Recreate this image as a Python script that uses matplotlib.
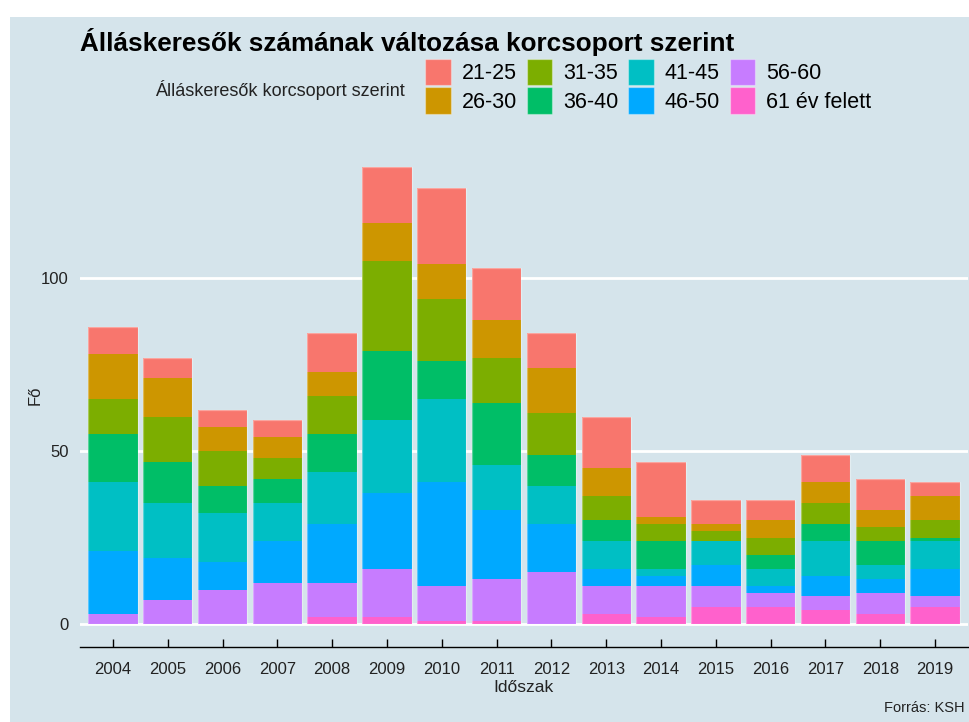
import numpy as np
import matplotlib
matplotlib.use("Agg")
import matplotlib.pyplot as plt
from matplotlib.patches import Patch, Rectangle

plt.rcParams['font.family'] = ['Liberation Sans', 'DejaVu Sans']

# Álláskeresők száma korcsoportonként (fő), 2004-2019
years = list(range(2004, 2020))
groups = ['21-25', '26-30', '31-35', '36-40', '41-45', '46-50', '56-60', '61 év felett']
colors = ['#F8766D', '#CD9600', '#7CAE00', '#00BE67', '#00BFC4', '#00A9FF', '#C77CFF', '#FF61CC']

age_21_25 = [8, 6, 5, 5, 11, 16, 22, 15, 10, 15, 16, 7, 6, 8, 9, 4]
age_26_30 = [13, 11, 7, 6, 7, 11, 10, 11, 13, 8, 2, 2, 5, 6, 5, 7]
age_31_35 = [10, 13, 10, 6, 11, 26, 18, 13, 12, 7, 5, 3, 5, 6, 4, 5]
age_36_40 = [14, 12, 8, 7, 11, 20, 11, 18, 9, 6, 8, 0, 4, 5, 7, 1]
age_41_45 = [20, 16, 14, 11, 15, 21, 24, 13, 11, 8, 2, 7, 5, 10, 4, 8]
age_46_50 = [18, 12, 8, 12, 17, 22, 30, 20, 14, 5, 3, 6, 2, 6, 4, 8]
age_56_60 = [3, 7, 10, 12, 10, 14, 10, 12, 15, 8, 9, 6, 4, 4, 6, 3]
age_61_up = [0, 0, 0, 0, 2, 2, 1, 1, 0, 3, 2, 5, 5, 4, 3, 5]

series = [age_21_25, age_26_30, age_31_35, age_36_40,
          age_41_45, age_46_50, age_56_60, age_61_up]

BG = '#d5e4eb'
OUTLINE = (1, 1, 1, 0.35)
W, H = 970, 722

fig = plt.figure(figsize=(W / 100, H / 100), dpi=100, facecolor='white')
fig.patches.append(Rectangle((10 / W, 0), 1 - 10 / W, 1 - 17 / H,
                             transform=fig.transFigure, facecolor=BG,
                             edgecolor='none', zorder=-10))

ax = fig.add_axes([80 / W, 1 - 647 / H, 888 / W, (647 - 144.5) / H])
ax.set_facecolor('none')

x = np.arange(len(years))
bottom = np.zeros(len(years))
# stack from the oldest group at the bottom up to 21-25 on top
for name, vals, col in reversed(list(zip(groups, series, colors))):
    vals = np.array(vals, dtype=float)
    ax.bar(x, vals, bottom=bottom, width=0.9, color=col, linewidth=0, zorder=3)
    bottom += vals

# faint outline around each full column
ax.bar(x, bottom, width=0.9, facecolor='none',
       edgecolor=OUTLINE, linewidth=0.9, zorder=4)

top = bottom.max()
ax.set_ylim(-0.05 * top, top * 1.05)
ax.set_xlim(-0.6, len(years) - 0.4)

ax.set_yticks([0, 50, 100])
ax.yaxis.grid(True, color='white', linewidth=2.0, zorder=1)
ax.set_axisbelow(True)
ax.tick_params(axis='y', length=0, pad=8, labelsize=12, labelcolor='#222222')

ax.set_xticks(x)
ax.set_xticklabels([str(y) for y in years])
ax.tick_params(axis='x', direction='in', length=6, width=1, color='black',
               pad=11, labelsize=12, labelcolor='#222222')

for side in ['top', 'right', 'left']:
    ax.spines[side].set_visible(False)
ax.spines['bottom'].set_color('black')
ax.spines['bottom'].set_linewidth(1)

ax.set_xlabel('Időszak', fontsize=12.5, labelpad=2, color='#222222')
ax.set_ylabel('Fő', fontsize=12, labelpad=0, color='#222222')
ax.yaxis.set_label_coords(-37 / 888, 0.5)

fig.text(80 / W, 1 - 51 / H, 'Álláskeresők számának változása korcsoport szerint',
         fontsize=18.8, fontweight='bold', ha='left', va='baseline')

# legend: title on the left, keys in four columns of two rows
handles = [Patch(facecolor=c, edgecolor=OUTLINE, linewidth=0.9) for c in colors]
leg = fig.legend(handles, groups, ncol=4, loc='upper left',
                 bbox_to_anchor=(425 / W, 1 - 59 / H), frameon=False,
                 fontsize=15.5, handlelength=1.2, handleheight=1.5,
                 handletextpad=0.5, columnspacing=0.45, labelspacing=0.1,
                 borderaxespad=0, borderpad=0)
fig.text(405 / W, 1 - 90 / H, 'Álláskeresők korcsoport szerint',
         fontsize=13, ha='right', va='center', color='#222222')

fig.text(965 / W, 1 - 708 / H, 'Forrás: KSH', fontsize=10.5,
         ha='right', va='center', color='#222222')

fig.savefig('out.png', dpi=100, facecolor=fig.get_facecolor())
